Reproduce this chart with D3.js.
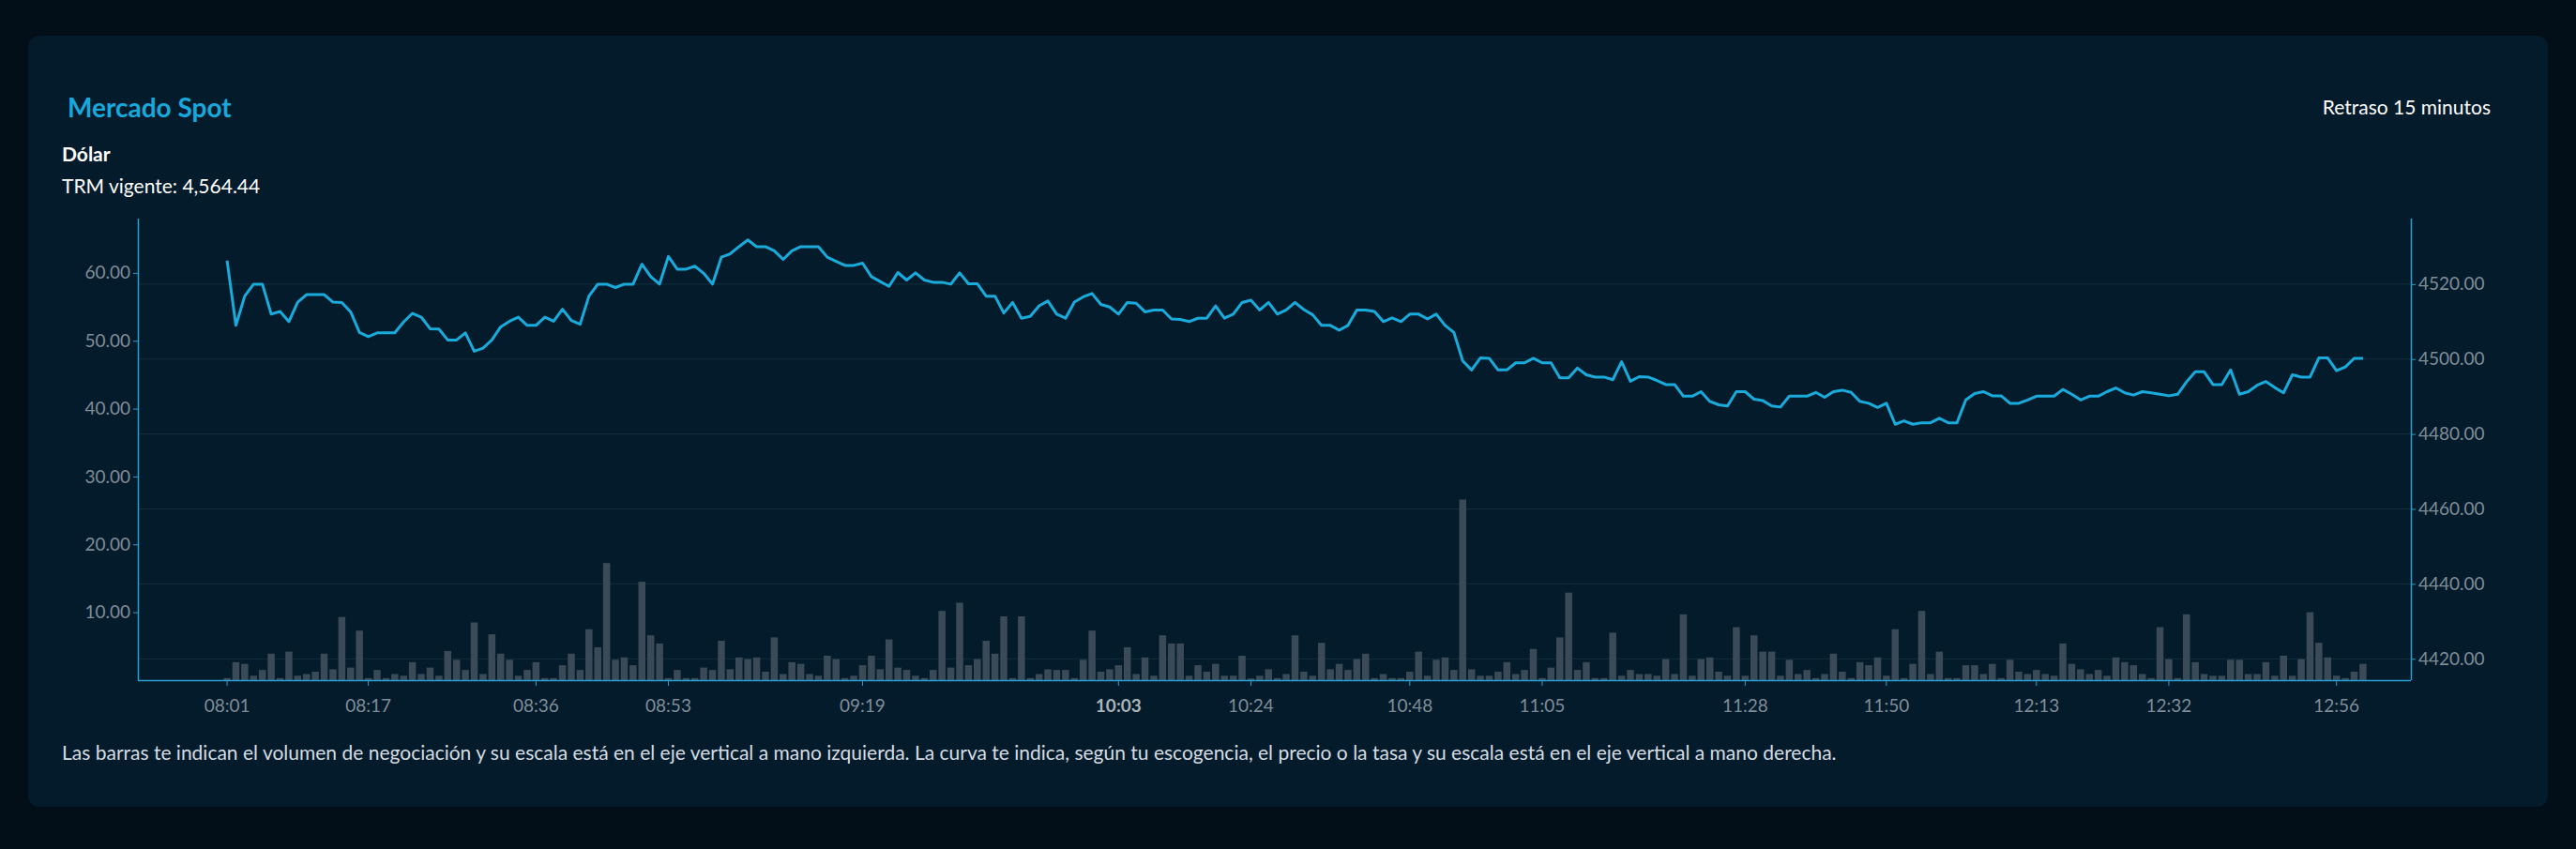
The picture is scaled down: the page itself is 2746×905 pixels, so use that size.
<!DOCTYPE html>
<html>
<head>
<meta charset="utf-8">
<script src="https://cdn.jsdelivr.net/npm/d3@7"></script>
<style>
  body { margin:0; background:#020f18; font-family: Lato, "Noto Sans", sans-serif; }
  svg { display:block; }
</style>
</head>
<body>
<main></main>
<script>
// precio (curva, eje derecho)
const price = [
4526.3,4509.0,4516.8,4520.0,4520.0,4512.0,4512.7,4510.0,4515.2,4517.2,4517.2,4517.2,4515.2,4515.1,4512.6,4507.1,4506.0,4507.0,4507.0,4507.0,4509.9,4512.2,4511.2,4508.1,4508.0,4505.1,4505.1,4507.0,4502.1,4502.9,4505.1,
4508.6,4510.1,4511.2,4509.0,4509.0,4511.2,4510.1,4513.3,4510.3,4509.3,4516.8,4520.0,4520.0,4519.1,4520.0,4520.0,4525.3,4522.0,4520.0,4527.4,4524.0,4524.0,4524.8,4522.9,4520.0,4527.2,4528.1,4530.0,4531.8,4530.0,4530.0,
4528.9,4526.6,4528.9,4530.0,4530.0,4530.0,4527.2,4526.1,4525.0,4525.0,4525.6,4522.0,4520.7,4519.4,4523.1,4521.1,4523.0,4521.1,4520.5,4520.5,4520.0,4523.0,4520.1,4520.1,4516.8,4516.8,4512.3,4515.1,4510.9,4511.4,4514.2,
4515.5,4512.0,4510.9,4515.2,4516.6,4517.5,4514.6,4513.9,4512.0,4515.1,4514.9,4512.6,4513.1,4513.1,4510.7,4510.6,4510.0,4510.9,4510.9,4514.2,4510.9,4512.0,4515.1,4515.7,4513.1,4515.1,4512.0,4513.1,4515.1,4513.2,4511.8,
4509.0,4509.0,4507.7,4509.0,4513.1,4513.1,4512.7,4510.0,4511.0,4510.0,4512.0,4512.0,4510.7,4512.0,4509.0,4507.1,4499.5,4497.1,4500.3,4500.2,4497.1,4497.1,4499.0,4499.0,4500.2,4499.0,4499.0,4495.0,4495.0,4497.6,4495.8,
4495.2,4495.2,4494.5,4499.3,4494.1,4495.3,4495.2,4494.3,4493.2,4493.2,4490.1,4490.1,4491.3,4488.7,4487.8,4487.5,4491.3,4491.3,4489.3,4488.9,4487.5,4487.2,4490.1,4490.1,4490.1,4491.1,4489.8,4491.3,4491.7,4491.1,4488.7,
4488.2,4487.1,4488.2,4482.6,4483.5,4482.6,4483.0,4483.0,4484.2,4483.0,4483.0,4489.1,4490.8,4491.3,4490.2,4490.2,4488.2,4488.2,4489.1,4490.1,4490.1,4490.1,4491.9,4490.6,4489.1,4490.1,4490.1,4491.3,4492.3,4491.0,4490.4,
4491.3,4491.0,4490.6,4490.2,4490.6,4493.9,4496.6,4496.6,4493.2,4493.2,4497.1,4490.6,4491.3,4493.0,4494.0,4492.4,4491.0,4495.8,4495.2,4495.2,4500.3,4500.3,4496.9,4497.9,4500.2,4500.2
];
// volumen (barras, eje izquierdo)
const volume = [
0.3,2.65,2.4,0.65,1.5,3.9,0.3,4.2,0.65,0.9,1.25,3.9,1.6,9.3,1.85,7.3,0.3,1.5,0.3,0.9,0.65,2.65,0.9,1.85,0.65,4.3,3.0,1.5,8.5,0.9,6.75,
3.9,3.0,0.65,1.5,2.65,0.3,0.3,2.2,3.9,1.5,7.5,4.85,17.25,3.0,3.35,2.2,14.5,6.6,5.4,0.3,1.5,0.3,0.3,1.85,1.5,5.8,1.6,3.35,3.1,3.35,1.25,
6.3,0.9,2.65,2.4,0.9,0.65,3.6,3.1,0.3,0.65,2.2,3.6,1.6,6.0,1.85,1.5,0.65,0.3,1.5,10.2,1.85,11.4,2.2,3.1,5.8,3.9,9.4,0.3,9.4,0.3,0.9,
1.6,1.5,1.5,0.3,3.0,7.3,1.25,1.6,2.2,4.85,0.9,3.35,0.65,6.6,5.4,5.4,0.65,2.2,1.25,2.4,0.65,0.65,3.6,0.25,0.65,1.6,0.3,0.9,6.6,1.25,0.65,
5.5,1.6,2.4,1.5,3.1,3.9,0.3,0.9,0.3,0.3,1.25,4.2,0.65,3.0,3.35,1.5,26.6,1.6,0.65,0.65,1.25,2.65,0.9,1.5,4.6,0.3,1.85,6.3,12.9,1.5,2.65,
0.3,0.3,7.0,0.65,1.5,0.9,0.9,0.65,3.1,0.9,9.7,0.65,3.1,3.35,1.25,0.65,7.8,0.65,6.6,4.2,4.2,0.65,3.0,0.9,1.5,0.3,0.9,3.9,1.25,0.3,2.65,
2.2,3.35,0.65,7.5,0.3,2.4,10.2,0.9,4.2,0.3,0.3,2.2,2.2,0.9,2.4,0.3,3.0,1.25,0.9,1.5,0.9,0.65,5.4,2.4,1.6,0.9,1.5,0.65,3.35,2.65,2.2,
0.9,0.3,7.8,3.1,0.3,9.7,2.65,0.9,0.65,0.65,3.0,3.0,0.9,0.9,2.65,0.65,3.6,0.65,3.1,10.0,5.5,3.35,0.65,0.3,1.25,2.4
];
const tickIdx    = [0, 16, 35, 50, 72, 101, 116, 134, 149, 172, 188, 205, 220, 239];
const tickLabels = ["08:01","08:17","08:36","08:53","09:19","10:03","10:24","10:48","11:05","11:28","11:50","12:13","12:32","12:56"];
const boldTick = "10:03";
const volTicks = [10, 20, 30, 40, 50, 60];
const priceTicks = [4420, 4440, 4460, 4480, 4500, 4520];

const W = 2746, H = 905;
const plotL = 147, plotR = 2570, plotT = 233, plotB = 725;

const svg = d3.select("main").append("svg").attr("width", W).attr("height", H);

svg.append("rect").attr("x", 30).attr("y", 38).attr("width", 2686).attr("height", 822)
  .attr("rx", 12).attr("fill", "#041b2b");

svg.append("text").attr("x", 72).attr("y", 125).text("Mercado Spot")
  .attr("fill", "#17a8dc").attr("font-size", 28).attr("font-weight", 700);
svg.append("text").attr("x", 2655).attr("y", 122).attr("text-anchor", "end").text("Retraso 15 minutos")
  .attr("fill", "#ffffff").attr("font-size", 21);
svg.append("text").attr("x", 66).attr("y", 172).text("Dólar")
  .attr("fill", "#ffffff").attr("font-size", 21).attr("font-weight", 700);
svg.append("text").attr("x", 66).attr("y", 206).text("TRM vigente: 4,564.44")
  .attr("fill", "#ffffff").attr("font-size", 21);
svg.append("text").attr("x", 66).attr("y", 810)
  .text("Las barras te indican el volumen de negociación y su escala está en el eje vertical a mano izquierda. La curva te indica, según tu escogencia, el precio o la tasa y su escala está en el eje vertical a mano derecha.")
  .attr("fill", "#d4dce2").attr("font-size", 21);

const x = d3.scaleBand().domain(d3.range(price.length))
  .range([238.3, 2522.7]).paddingInner(0.2);
const yVol = d3.scaleLinear().domain([0, 68]).range([plotB, plotT]);
const yPrice = d3.scaleLinear().domain([4414.3, 4537.5]).range([plotB, plotT]);

// grid on right axis ticks
svg.append("g").selectAll("line").data(priceTicks).join("line")
  .attr("x1", plotL).attr("x2", plotR)
  .attr("y1", d => yPrice(d)).attr("y2", d => yPrice(d))
  .attr("stroke", "#12303f").attr("stroke-width", 1);

svg.append("g").selectAll("rect").data(volume).join("rect")
  .attr("x", (d, i) => x(i)).attr("width", x.bandwidth())
  .attr("y", d => yVol(d)).attr("height", d => plotB - yVol(d))
  .attr("fill", "#3a4a56");

const line = d3.line().x((d, i) => x(i) + x.bandwidth() / 2).y(d => yPrice(d));
svg.append("path").datum(price).attr("d", line)
  .attr("fill", "none").attr("stroke", "#19abdc").attr("stroke-width", 3).attr("stroke-linejoin", "round");

const axisColor = "#2a9fd0", labelColor = "#7f8d98";

const yl = svg.append("g").attr("transform", `translate(${plotL},0)`)
  .call(d3.axisLeft(yVol).tickValues(volTicks).tickFormat(d3.format(".2f")).tickSize(5).tickSizeOuter(0));
const yr = svg.append("g").attr("transform", `translate(${plotR},0)`)
  .call(d3.axisRight(yPrice).tickValues(priceTicks).tickFormat(d3.format(".2f")).tickSize(5).tickSizeOuter(0));
const xa = svg.append("g").attr("transform", `translate(0,${plotB})`)
  .call(d3.axisBottom(x).tickValues(tickIdx).tickFormat((d, i) => tickLabels[i]).tickSize(6).tickSizeOuter(0));

[yl, yr, xa].forEach(g => {
  g.select(".domain").attr("stroke", axisColor).attr("stroke-width", 1.5);
  g.selectAll(".tick line").attr("stroke", axisColor);
  g.selectAll(".tick text").attr("fill", labelColor).attr("font-size", 19)
    .attr("font-family", "Lato, 'Noto Sans', sans-serif");
});
xa.select(".domain").attr("d", `M${plotL},0.5H${plotR}`);
yl.select(".domain").attr("d", `M0.5,${plotT}V${plotB}`);
yr.select(".domain").attr("d", `M0.5,${plotT}V${plotB}`);
xa.selectAll(".tick text").attr("dy", "1.3em")
  .filter(d => tickLabels[tickIdx.indexOf(d)] === boldTick)
  .attr("font-weight", 700).attr("fill", "#a8b4bc");
</script>
</body>
</html>
